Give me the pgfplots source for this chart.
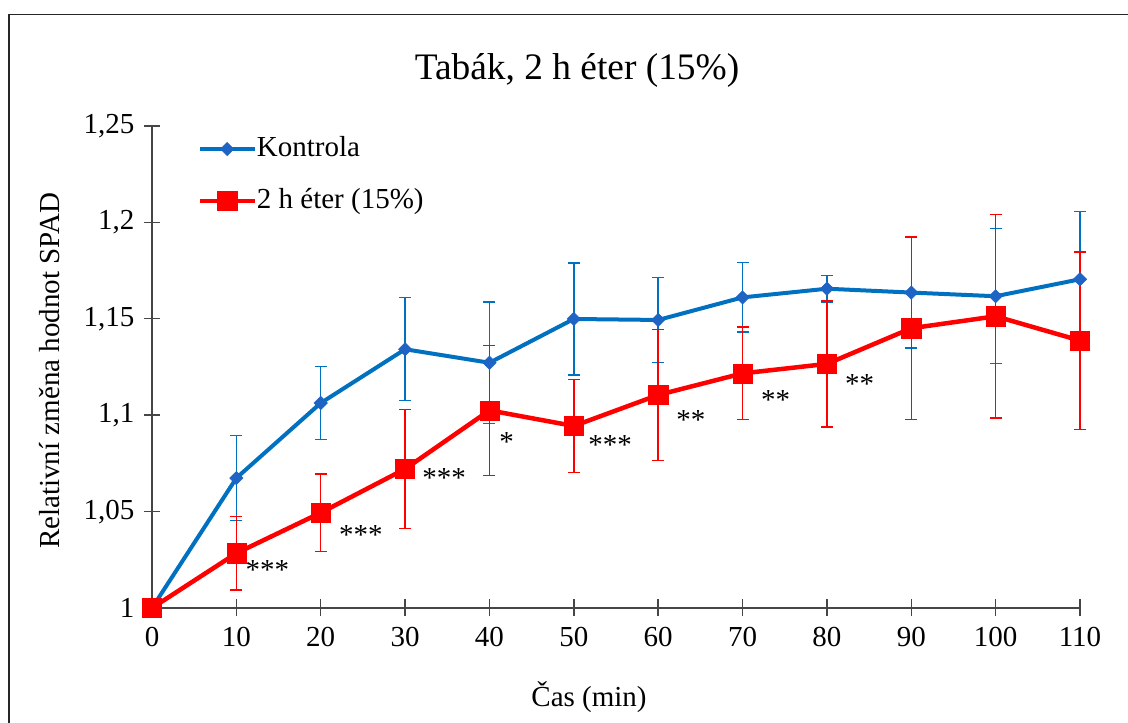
\documentclass[border=0pt]{standalone}
\usepackage{pgfplots}
\pgfplotsset{compat=1.18}
\usepackage{fontspec}
\setmainfont{Liberation Serif}
\definecolor{cblue}{RGB}{0,112,192}
\definecolor{cmark}{RGB}{30,100,196}
\definecolor{cred}{RGB}{255,0,0}
\definecolor{caxis}{RGB}{70,70,70}
\pgfplotstableread{
x y e
0 1.000 0
10 1.0674 0.022
20 1.1063 0.019
30 1.1342 0.0267
40 1.1272 0.0316
50 1.1499 0.029
60 1.1494 0.022
70 1.1611 0.018
80 1.1656 0.007
90 1.1636 0.0287
100 1.1617 0.035
110 1.1705 0.035
}\kontrola
\pgfplotstableread{
x y e
0 1.000 0
10 1.0284 0.019
20 1.0494 0.020
30 1.0721 0.031
40 1.1025 0.0337
50 1.0944 0.024
60 1.1105 0.034
70 1.1217 0.024
80 1.1266 0.0327
90 1.1451 0.0474
100 1.1513 0.0527
110 1.1387 0.046
}\eter
\begin{document}
\begin{tikzpicture}[x=1pt,y=1pt]
\useasboundingbox (0,0) rectangle (564,361);
\draw[line width=0.7pt, black!85] (4.5,-5) -- (4.5,353.75) -- (570,353.75);
\begin{axis}[
  at={(76pt,57pt)}, anchor=south west,
  scale only axis, width=464pt, height=241pt,
  xmin=0, xmax=110, ymin=1, ymax=1.25,
  clip=false,
  axis x line*=bottom, axis y line*=left,
  axis line style={caxis, line width=0.7pt},
  xtick={0,10,20,30,40,50,60,70,80,90,100,110},
  ytick={1,1.05,1.1,1.15,1.2,1.25},
  yticklabels={1,{1,05},{1,1},{1,15},{1,2},{1,25}},
  tick align=center, major tick length=8.5pt,
  tick style={caxis, line width=0.7pt},
  /pgf/number format/assume math mode=true,
  tick label style={font=\fontsize{14.5}{16}\selectfont},
  yticklabel style={xshift=-1pt},
  xticklabel style={yshift=-2pt},
  legend style={at={(0.0485,0.98)}, anchor=north west, draw=none, fill=none,
    font=\fontsize{14.5}{16}\selectfont, inner sep=0pt, row sep=13pt,
    nodes={inner sep=0pt, text height=10pt, text depth=3pt}},
  legend cell align=left,
  legend image code/.code={\draw[mark repeat=2,mark phase=2,#1] plot coordinates {(0pt,0pt) (13.75pt,0pt) (27.5pt,0pt)};},
  legend style={/tikz/every even column/.append style={column sep=3pt}},
]
\addplot[cblue, line width=2pt, mark=square*, mark size=2.3pt,
  mark options={cmark, rotate=45, line width=0.4pt},
  error bars/.cd, y dir=both, y explicit,
  error bar style={cblue, line width=0.7pt},
  error mark options={rotate=90, mark size=3pt, cblue, line width=0.7pt}]
  table[x=x, y=y, y error=e] {\kontrola};
\addlegendentry{Kontrola}
\addplot[cred, line width=2.25pt, mark=square*, mark size=4.8pt,
  mark options={cred, line width=0.2pt},
  error bars/.cd, y dir=both, y explicit,
  error bar style={cred, line width=0.7pt},
  error mark options={rotate=90, mark size=3pt, cred, line width=0.7pt}]
  table[x=x, y=y, y error=e] {\eter};
\addlegendentry{2 h éter (15\%)}
\begin{scope}[every node/.style={font=\fontsize{14.5}{16}\selectfont, yshift=-2.7pt}]
\node at (axis cs:13.69,1.0227) {***};
\node at (axis cs:24.75,1.0405) {***};
\node at (axis cs:34.63,1.0702) {***};
\node at (axis cs:42.04,1.0889) {*};
\node at (axis cs:54.3,1.0871) {***};
\node at (axis cs:63.86,1.1005) {**};
\node at (axis cs:73.93,1.1105) {**};
\node at (axis cs:83.89,1.1191) {**};
\end{scope}
\end{axis}
\node[font=\fontsize{18.7}{22}\selectfont] at (288.5,326) {Tabák, 2 h éter (15\%)};
\node[font=\fontsize{14.5}{16}\selectfont, rotate=90] at (25,175.5) {Relativní změna hodnot SPAD};
\node[font=\fontsize{14.5}{16}\selectfont] at (294.5,12.5) {Čas (min)};
\end{tikzpicture}
\end{document}
